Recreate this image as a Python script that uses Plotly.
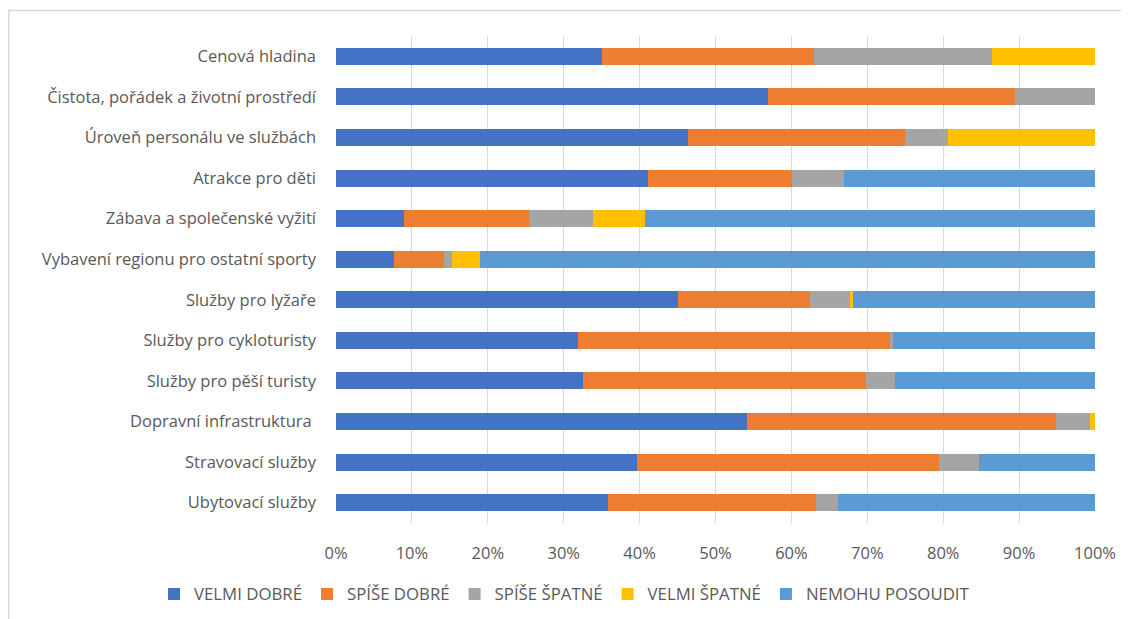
import plotly.graph_objects as go

categories = [
    "Cenová hladina",
    "Čistota, pořádek a životní prostředí",
    "Úroveň personálu ve službách",
    "Atrakce pro děti",
    "Zábava a společenské vyžití",
    "Vybavení regionu pro ostatní sporty",
    "Služby pro lyžaře",
    "Služby pro cykloturisty",
    "Služby pro pěší turisty",
    "Dopravní infrastruktura ",
    "Stravovací služby",
    "Ubytovací služby",
]

series_names = ["VELMI DOBRÉ", "SPÍŠE DOBRÉ", "SPÍŠE ŠPATNÉ", "VELMI ŠPATNÉ", "NEMOHU POSOUDIT"]

velmi_dobre = [35.1, 56.9, 46.4, 41.1, 8.9, 7.6, 45.0, 31.9, 32.6, 54.1, 39.6, 35.9]
spise_dobre = [27.9, 32.6, 28.6, 19.0, 16.5, 6.6, 17.5, 41.1, 37.2, 40.7, 39.9, 27.3]
spise_spatne = [23.4, 10.5, 5.6, 6.8, 8.4, 1.1, 5.2, 0.4, 3.9, 4.5, 5.2, 2.9]
velmi_spatne = [13.6, 0.0, 19.4, 0.0, 6.9, 3.7, 0.4, 0.0, 0.0, 0.7, 0.0, 0.0]
nemohu_posoudit = [0.0, 0.0, 0.0, 33.1, 59.3, 81.0, 31.9, 26.6, 26.3, 0.0, 15.3, 33.9]

x_ticks = [0, 10, 20, 30, 40, 50, 60, 70, 80, 90, 100]
x_tick_labels = [f"{t}%" for t in x_ticks]

colors = ["#4472C4", "#ED7D31", "#A5A5A5", "#FFC000", "#5B9BD5"]
series_values = [velmi_dobre, spise_dobre, spise_spatne, velmi_spatne, nemohu_posoudit]

# the page body adds an 8px offset, so the figure is 8px smaller than the window
W, H = 1121, 611
ml, mr, mt, mb = 328, 34, 28, 96

fig = go.Figure()
for name, vals, col in zip(series_names, series_values, colors):
    fig.add_trace(go.Bar(
        y=categories, x=vals, name=name, orientation="h",
        marker=dict(color=col, line=dict(width=0)),
        hovertemplate="%{y}: %{x:.1f}%<extra>" + name + "</extra>",
    ))

pw = W - ml - mr
ph = H - mt - mb
# outer chart frame (like the Excel chart border)
fig.add_shape(type="rect", xref="paper", yref="paper",
              x0=(0.75 - ml) / pw, x1=(W + 20 - ml) / pw,
              y0=(H - mb - (H + 20)) / ph, y1=(H - mb - 2.5) / ph,
              line=dict(color="#D9D9D9", width=1.5), fillcolor="rgba(0,0,0,0)", layer="below")

font_family = "'Open Sans', Lato, sans-serif"
fig.update_layout(
    width=W, height=H,
    margin=dict(l=ml, r=mr, t=mt, b=mb, autoexpand=False),
    barmode="stack", barnorm="percent", bargap=0.58,
    plot_bgcolor="white", paper_bgcolor="white",
    font=dict(family=font_family, color="#595959", size=16),
    showlegend=True,
    legend=dict(orientation="h",
                x=(146 - ml) / pw, xanchor="left",
                y=(H - mb - 586) / ph, yanchor="middle",
                font=dict(size=16.8, color="#595959"),
                traceorder="normal", itemwidth=30),
    xaxis=dict(range=[0, 100], tickvals=x_ticks, ticktext=x_tick_labels,
               showgrid=True, gridcolor="#D9D9D9", gridwidth=1,
               zeroline=False, showline=False, ticks="",
               ticklabelstandoff=18, tickfont=dict(size=16.5, color="#595959"),
               fixedrange=True),
    yaxis=dict(autorange="reversed", showgrid=False, showline=False, ticks="",
               ticklabelstandoff=19, tickfont=dict(size=16.5, color="#595959"),
               fixedrange=True),
)

fig.write_html("out.html")
